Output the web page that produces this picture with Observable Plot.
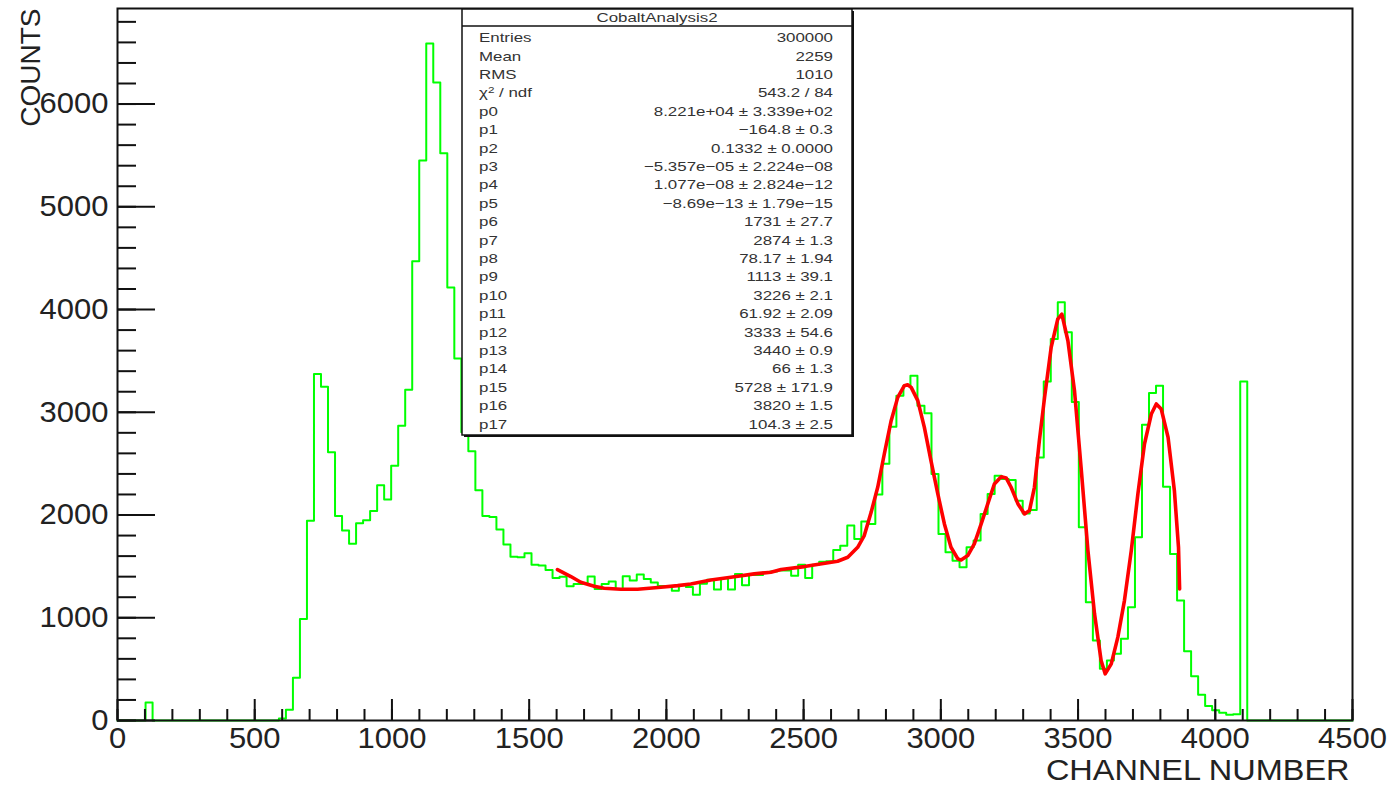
<!DOCTYPE html>
<html><head><meta charset="utf-8">
<script src="https://cdn.jsdelivr.net/npm/d3@7"></script>
<script src="https://cdn.jsdelivr.net/npm/@observablehq/plot@0.6"></script>
<style>
html,body{margin:0;padding:0;background:#fff;}
#chart{position:relative;width:1394px;height:787px;overflow:hidden;}
</style></head><body><div id="chart"></div>
<script>
// ---- histogram binning ----
const xMin = 0, xMax = 4500, nBins = 176;
// ---- bin contents (bins 0..175) ----
const counts = [
  0,0,0,0,175,0,0,0,0,0,
  0,0,0,0,0,0,0,0,0,0,
  0,0,0,20,104,415,989,1945,3372,3249,
  2610,1990,1850,1720,1920,1950,2040,2290,2150,2480,
  2870,3220,4470,5450,6590,6210,5520,4215,3524,2805,
  2620,2240,1990,1980,1860,1712,1595,1589,1628,1517,
  1508,1466,1388,1400,1307,1329,1329,1401,1281,1329,
  1352,1280,1404,1362,1420,1378,1342,1310,1310,1262,
  1316,1300,1225,1330,1370,1276,1385,1276,1427,1316,
  1415,1415,1440,1450,1459,1459,1410,1515,1386,1515,
  1545,1550,1660,1700,1897,1767,1936,1913,2200,2500,
  2860,3161,3259,3356,3064,2990,2400,1816,1637,1556,
  1491,1686,1751,2011,2205,2383,2351,2341,2140,2014,
  2050,2561,3300,3713,4070,3778,3100,1881,1151,778,
  503,584,649,795,1102,1783,2879,3188,3259,2276,
  1621,1167,674,430,250,140,100,75,55,60,
  3300,0,0,0,0,0,0,0,0,0,
  0,0,0,0,0,0
];
// ---- fitted function ----
const fitX = [1603,1652,1688,1737,1773,1834,1895,1980,2041,2089,2162,2235,2320,2381,2418,2503,2624,2661,2697,2721,2746,2770,2794,2819,2843,2867,2879,2892,2916,2940,2964,2989,3013,3037,3062,3074,3098,3122,3147,3171,3195,3220,3238,3256,3281,3305,3323,3341,3359,3378,3402,3426,3441,3463,3487,3511,3536,3560,3584,3599,3621,3645,3669,3694,3718,3742,3767,3785,3803,3828,3851,3866,3870];
const fitY = [1469,1401,1346,1307,1287,1277,1277,1297,1313,1329,1368,1394,1427,1443,1469,1498,1550,1589,1686,1800,2026,2270,2594,2918,3145,3259,3268,3242,3113,2853,2529,2205,1913,1686,1573,1563,1605,1719,1913,2108,2302,2373,2361,2270,2108,2011,2043,2270,2724,3145,3631,3907,3956,3696,3210,2464,1654,1038,584,454,551,811,1167,1654,2205,2691,2983,3081,3032,2756,2237,1686,1281];
// ---- axes ----
const xTicks = [0,500,1000,1500,2000,2500,3000,3500,4000,4500];
const yTicks = [0,1000,2000,3000,4000,5000,6000];
const xTitle = "CHANNEL NUMBER";
const yTitle = "COUNTS";
// ---- statistics box ----
const statsTitle = "CobaltAnalysis2";
const statsLabels = ["Entries","Mean","RMS","CHI2","p0","p1","p2","p3","p4","p5","p6","p7","p8","p9","p10","p11","p12","p13","p14","p15","p16","p17"];
const statsValues = ["300000","2259","1010","543.2 / 84","8.221e+04 \u00b1 3.339e+02","\u2212164.8 \u00b1 0.3","0.1332 \u00b1 0.0000","\u22125.357e\u221205 \u00b1 2.224e\u221208","1.077e\u221208 \u00b1 2.824e\u221212","\u22128.69e\u221213 \u00b1 1.79e\u221215","1731 \u00b1 27.7","2874 \u00b1 1.3","78.17 \u00b1 1.94","1113 \u00b1 39.1","3226 \u00b1 2.1","61.92 \u00b1 2.09","3333 \u00b1 54.6","3440 \u00b1 0.9","66 \u00b1 1.3","5728 \u00b1 171.9","3820 \u00b1 1.5","104.3 \u00b1 2.5"];

const binW = (xMax - xMin) / nBins;
const steps = counts.map((c, i) => ({x: xMin + i * binW, y: c}));
steps.push({x: xMin + nBins * binW, y: counts[nBins - 1]});
const fit = fitX.map((x, i) => ({x, y: fitY[i]}));

const font = "'Liberation Sans', Arial, Helvetica, sans-serif";
const tickFont = 29.5;
const fmt = d3.format("d");

const chart = Plot.plot({
  width: 1394, height: 787,
  marginLeft: 117, marginRight: 42, marginTop: 8, marginBottom: 67,
  style: {fontFamily: font, background: "#fff", color: "#000", overflow: "visible"},
  x: {domain: [xMin, xMax]},
  y: {domain: [0, 6930]},
  marks: [
    Plot.line(steps, {x: "x", y: "y", curve: "step-after", stroke: "#00ff00", strokeWidth: 2}),
    Plot.line(fit, {x: "x", y: "y", stroke: "#ff0000", strokeWidth: 3.6}),
    Plot.axisX(d3.range(0, 4501, 100), {tickSize: -11, text: null, label: null, strokeWidth: 2, stroke: "#111"}),
    Plot.axisX(xTicks, {tickSize: -21, text: null, label: null, strokeWidth: 2, stroke: "#111"}),
    Plot.axisX(xTicks, {tickSize: 0, tickPadding: 7, fontSize: tickFont, label: null, tickFormat: fmt, fill: "#222", className: "xticklab"}),
    Plot.axisY(d3.range(0, 6901, 200), {tickSize: -19, text: null, label: null, strokeWidth: 2, stroke: "#111"}),
    Plot.axisY(yTicks, {tickSize: -38, text: null, label: null, strokeWidth: 2, stroke: "#111"}),
    Plot.axisY(yTicks, {tickSize: 0, tickPadding: 9, fontSize: tickFont, label: null, tickFormat: fmt, fill: "#222", className: "yticklab"}),
    Plot.text([xTitle], {frameAnchor: "bottom-right", dy: 59, dx: -3, textAnchor: "end", fontSize: 29, fill: "#222", className: "xtitle"}),
    Plot.text([yTitle], {frameAnchor: "top-left", dx: -97, dy: 0, rotate: -90, textAnchor: "end", fontSize: 28, fill: "#222"}),
    Plot.frame({stroke: "#111", strokeWidth: 2})
  ]
});
document.getElementById("chart").appendChild(chart);

// ROOT's text is slightly wider than Liberation Sans: stretch a bit horizontally
function stretch(sel, k) {
  d3.select(chart).selectAll(sel).each(function() {
    const t = d3.select(this);
    t.attr("transform", (t.attr("transform") || "") + ` scale(${k},1)`);
  });
}
stretch(".xtitle text", 1.12);
stretch(".xticklab text", 1.05);
stretch(".yticklab text", 1.05);

// statistics box drawn on top of the plot
const svg = d3.select(chart);
const bx = 462, by = 9, bw = 390, bh = 426, head = 17, rowH = 18.4, firstRow = 37.5;
const sx = 1.3, fs = 13;
const g = svg.append("g").attr("font-family", font).attr("text-anchor", "start");
g.append("rect").attr("x", bx + 2).attr("y", by + 2).attr("width", bw).attr("height", bh).attr("fill", "#111");
g.append("rect").attr("x", bx).attr("y", by).attr("width", bw).attr("height", bh).attr("fill", "#fff").attr("stroke", "#111").attr("stroke-width", 1.5);
g.append("line").attr("x1", bx).attr("x2", bx + bw).attr("y1", by + head).attr("y2", by + head).attr("stroke", "#111").attr("stroke-width", 1.5);
g.append("text").attr("transform", `translate(${bx + bw / 2},${by + head / 2}) scale(${sx},1)`).attr("dy", "0.36em").attr("text-anchor", "middle").attr("font-size", fs).attr("fill", "#333").text(statsTitle);
statsLabels.forEach((lab, i) => {
  const y = firstRow + i * rowH;
  const t = g.append("text").attr("transform", `translate(${bx + 17},${y}) scale(${sx},1)`).attr("dy", "0.36em").attr("text-anchor", "start").attr("font-size", fs).attr("fill", "#333");
  if (lab === "CHI2") {
    t.append("tspan").text("\u03c7");
    t.append("tspan").attr("font-size", 9).attr("dy", "-0.5em").text("2");
    t.append("tspan").attr("dy", "0.35em").text(" / ndf");
  } else t.text(lab);
  g.append("text").attr("transform", `translate(${bx + bw - 19},${y}) scale(${sx},1)`).attr("dy", "0.36em").attr("text-anchor", "end").attr("font-size", fs).attr("fill", "#333").text(statsValues[i]);
});
</script></body></html>
